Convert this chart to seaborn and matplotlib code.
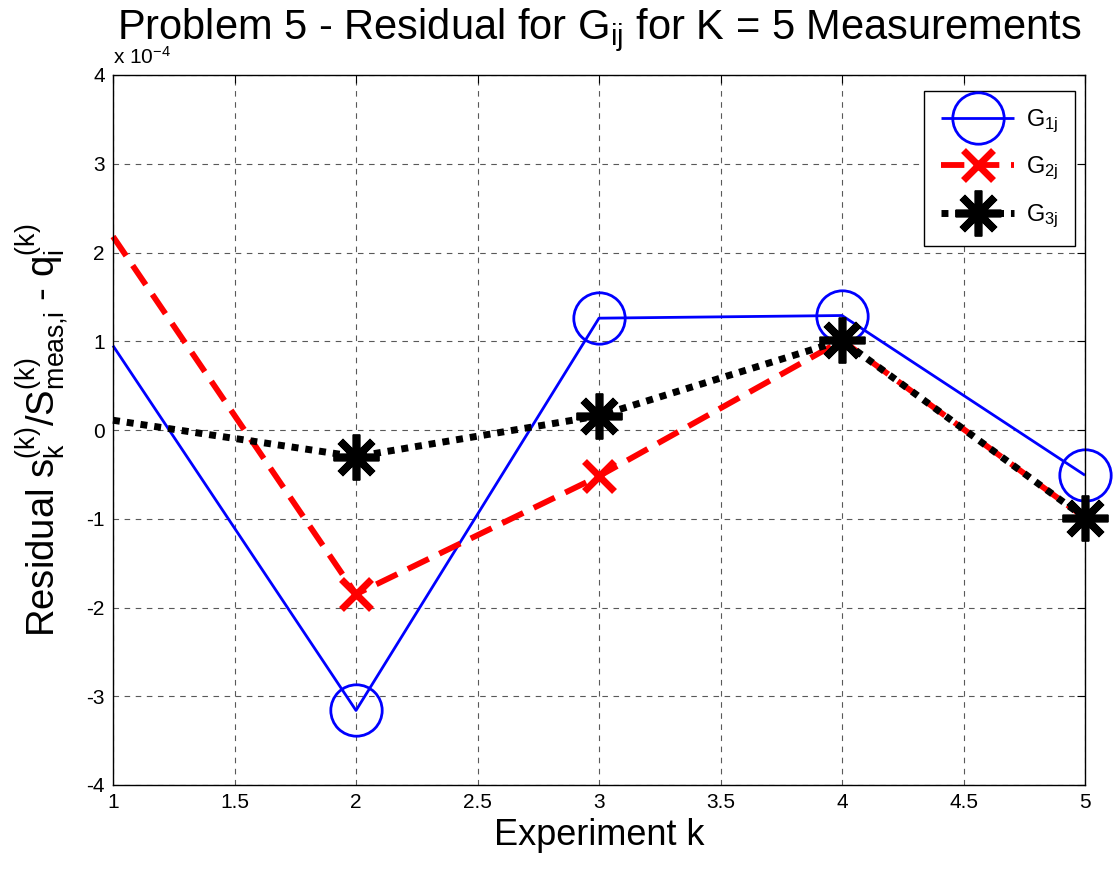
import matplotlib
matplotlib.use("Agg")
import matplotlib.pyplot as plt
import seaborn as sns
import pandas as pd

# Data (values in units of 1e-4)
experiments = [1, 2, 3, 4, 5]
g1j = [0.95, -3.16, 1.26, 1.29, -0.51]
g2j = [2.18, -1.85, -0.52, 1.01, -0.99]
g3j = [0.11, -0.30, 0.16, 1.01, -0.99]
series_labels = [r"G$_{\mathrm{1j}}$", r"G$_{\mathrm{2j}}$", r"G$_{\mathrm{3j}}$"]
x_ticks = [1, 1.5, 2, 2.5, 3, 3.5, 4, 4.5, 5]
x_ticklabels = ["1", "1.5", "2", "2.5", "3", "3.5", "4", "4.5", "5"]
y_ticks = [-4, -3, -2, -1, 0, 1, 2, 3, 4]
y_ticklabels = ["-4", "-3", "-2", "-1", "0", "1", "2", "3", "4"]

sns.set_theme(style="white")
plt.rcParams["font.family"] = ["Liberation Sans", "DejaVu Sans"]
plt.rcParams["mathtext.fontset"] = "custom"
plt.rcParams["mathtext.rm"] = "Liberation Sans"
plt.rcParams["mathtext.it"] = "Liberation Sans:italic"
plt.rcParams["mathtext.bf"] = "Liberation Sans:bold"
plt.rcParams["text.color"] = "black"
plt.rcParams["axes.labelcolor"] = "black"

df = pd.DataFrame({"k": experiments * 3,
                   "val": g1j + g2j + g3j,
                   "series": [series_labels[0]] * 5 + [series_labels[1]] * 5 + [series_labels[2]] * 5})

fig = plt.figure(figsize=(11.13, 8.69), dpi=100)
ax = fig.add_axes([113 / 1113, 1 - 785 / 869, (1085 - 113) / 1113, (785 - 75) / 869])

mk_idx = [1, 2, 3, 4]
styles = [
    dict(color="#0000ff", linestyle="-", linewidth=2.0, marker="o", markersize=37,
         markerfacecolor="none", markeredgewidth=2.0, markeredgecolor="#0000ff"),
    dict(color="#ff0000", linestyle=(0, (4, 2)), linewidth=4.2, marker="x", markersize=22,
         markeredgewidth=5, markeredgecolor="#ff0000"),
    dict(color="black", linestyle=(0, (1, 1)), linewidth=5, marker=(8, 2, 0), markersize=33,
         markeredgewidth=5.5, markeredgecolor="black"),
]
for lab, st in zip(series_labels, styles):
    sub = df[df["series"] == lab]
    sns.lineplot(data=sub, x="k", y="val", ax=ax, label=lab, sort=False,
                 markevery=mk_idx, clip_on=False,
                 dash_capstyle="butt", solid_capstyle="butt", **st)

ax.set_xlim(1, 5)
ax.set_ylim(-4, 4)
ax.set_xticks(x_ticks)
ax.set_xticklabels(x_ticklabels)
ax.set_yticks(y_ticks)
ax.set_yticklabels(y_ticklabels)
ax.tick_params(axis="both", which="both", direction="in", length=6, width=0.8,
               top=True, right=True, labelsize=15, colors="black", pad=6)
ax.grid(True, color="0.35", linestyle=(0, (5, 5)), linewidth=0.8)
for s in ax.spines.values():
    s.set_color("black")
    s.set_linewidth(1.0)

ax.set_xlabel("Experiment k", fontsize=26, labelpad=4)
ax.set_ylabel("Residual s$_{\\mathrm{k}}^{\\mathrm{(k)}}$/S$_{\\mathrm{meas\u201ai}}^{\\mathrm{(k)}}$ - q$_{\\mathrm{i}}^{\\mathrm{(k)}}$",
              fontsize=27.5, labelpad=11)
ax.set_title(r"Problem 5 - Residual for G$_{\mathrm{ij}}$ for K = 5 Measurements", fontsize=30, pad=26)
ax.text(0.0, 1.01, r"x 10$^{\mathrm{-4}}$", transform=ax.transAxes, fontsize=15,
        ha="left", va="bottom")

leg = ax.legend(loc="upper right", bbox_to_anchor=(1075 / 1113, 1 - 91 / 869),
                bbox_transform=fig.transFigure, borderaxespad=0,
                fontsize=17, handlelength=3.1, numpoints=1,
                frameon=True, fancybox=False, edgecolor="black", framealpha=1,
                labelspacing=0.85, handletextpad=0.5, borderpad=0.7)
leg.get_frame().set_linewidth(1.0)

fig.savefig("out.png", dpi=100)
